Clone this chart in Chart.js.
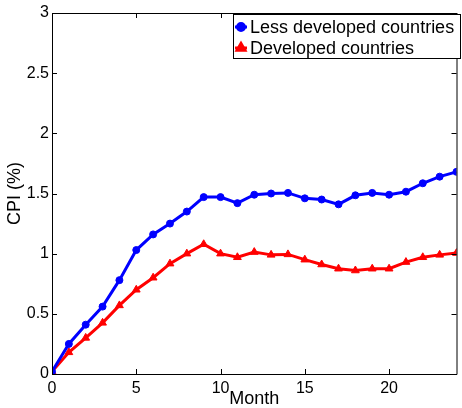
<!DOCTYPE html>
<html>
<head>
<meta charset="utf-8">
<script src="https://cdn.jsdelivr.net/npm/chart.js@4.4.1/dist/chart.umd.min.js"></script>
<style>
  html, body { margin: 0; padding: 0; background: #ffffff; }
  #wrap { width: 462px; height: 408px; }
</style>
</head>
<body>
<div id="wrap"><canvas id="cpiChart" width="462" height="408"></canvas></div>
<script>
const months = [0, 1, 2, 3, 4, 5, 6, 7, 8, 9, 10, 11, 12, 13, 14, 15, 16, 17, 18, 19, 20, 21, 22, 23, 24];
const lessDeveloped = [0.02, 0.25, 0.41, 0.56, 0.78, 1.03, 1.16, 1.25, 1.35, 1.47, 1.47, 1.42, 1.49, 1.50, 1.505, 1.46, 1.45, 1.41, 1.485, 1.505, 1.49, 1.515, 1.585, 1.64, 1.68];
const developed = [0.02, 0.18, 0.30, 0.425, 0.57, 0.70, 0.80, 0.917, 1.00, 1.078, 1.00, 0.97, 1.013, 0.99, 0.994, 0.95, 0.91, 0.875, 0.86, 0.875, 0.875, 0.93, 0.97, 0.99, 1.005];
const seriesNames = ['Less developed countries', 'Developed countries'];
const xTickLabels = ['0', '5', '10', '15', '20'];
const yTickLabels = ['0', '0.5', '1', '1.5', '2', '2.5', '3'];

const FONT = "'Liberation Sans', Arial, Helvetica, sans-serif";

// box around the axes with short inward tick marks on all four sides
const framePlugin = {
  id: 'frame',
  afterDatasetsDraw(chart) {
    const { ctx, chartArea: a, scales } = chart;
    const len = 5;
    ctx.save();
    ctx.strokeStyle = '#000';
    ctx.lineWidth = 1;
    ctx.beginPath();
    ctx.moveTo(a.left + 0.5, a.top + 0.5);
    ctx.lineTo(a.right + 0.5, a.top + 0.5);
    ctx.moveTo(a.left + 0.5, a.top);
    ctx.lineTo(a.left + 0.5, a.bottom + 0.5);
    ctx.lineTo(a.right + 0.5, a.bottom + 0.5);
    ctx.lineTo(a.right + 0.5, a.top);
    scales.x.ticks.forEach(t => {
      const px = Math.round(scales.x.getPixelForValue(t.value)) + 0.5;
      ctx.moveTo(px, a.bottom);
      ctx.lineTo(px, a.bottom - len);
      ctx.moveTo(px, a.top);
      ctx.lineTo(px, a.top + len);
    });
    scales.y.ticks.forEach(t => {
      const py = Math.round(scales.y.getPixelForValue(t.value)) + 0.5;
      ctx.moveTo(a.left, py);
      ctx.lineTo(a.left + len, py);
      ctx.moveTo(a.right, py);
      ctx.lineTo(a.right - len, py);
    });
    ctx.stroke();
    ctx.restore();
  },
  afterDraw(chart) {
    // legend box in the upper right corner of the axes
    const { ctx } = chart;
    const x0 = 233, y0 = 14, w = 228, h = 45;
    ctx.save();
    ctx.fillStyle = '#fff';
    ctx.fillRect(x0, y0, w, h);
    ctx.strokeStyle = '#000';
    ctx.lineWidth = 1;
    ctx.strokeRect(x0 + 0.5, y0 + 0.5, w - 1, h - 1);
    ctx.font = '18px ' + FONT;
    ctx.textBaseline = 'middle';
    chart.data.datasets.forEach((ds, i) => {
      const cy = y0 + 13 + i * 21;
      ctx.strokeStyle = ds.borderColor;
      ctx.fillStyle = ds.borderColor;
      ctx.lineWidth = 3;
      ctx.beginPath();
      ctx.moveTo(x0 + 2, cy);
      ctx.lineTo(x0 + 14, cy);
      ctx.stroke();
      Chart.helpers.drawPoint(ctx, { pointStyle: ds.pointStyle, radius: ds.pointRadius, rotation: 0, borderWidth: 1 }, x0 + 8, cy);
      ctx.fillStyle = '#000';
      ctx.fillText(ds.label, x0 + 17, cy + 1);
    });
    ctx.restore();
  }
};

const ctx = document.getElementById('cpiChart').getContext('2d');
new Chart(ctx, {
  type: 'line',
  data: {
    datasets: [
      {
        label: seriesNames[0],
        data: months.map((m, i) => ({ x: m, y: lessDeveloped[i] })),
        borderColor: '#0000ff',
        backgroundColor: '#0000ff',
        borderWidth: 3,
        pointStyle: 'circle',
        pointRadius: 3.5,
        pointBorderWidth: 1,
        tension: 0
      },
      {
        label: seriesNames[1],
        data: months.map((m, i) => ({ x: m, y: developed[i] })),
        borderColor: '#ff0000',
        backgroundColor: '#ff0000',
        borderWidth: 3,
        pointStyle: 'triangle',
        pointRadius: 4.5,
        pointBorderWidth: 1,
        tension: 0
      }
    ]
  },
  options: {
    responsive: false,
    animation: false,
    devicePixelRatio: 1,
    layout: { padding: { top: 13, right: 0, left: 0, bottom: 0 } },
    plugins: {
      legend: { display: false },
      tooltip: { enabled: false }
    },
    scales: {
      x: {
        type: 'linear',
        min: 0,
        max: 24,
        afterFit: s => { s.height = 34; },
        grid: { display: false, drawTicks: false },
        border: { display: false },
        ticks: {
          stepSize: 5,
          padding: 5,
          maxRotation: 0,
          color: '#000',
          font: { family: FONT, size: 16 },
          callback: (v, i) => xTickLabels[i]
        },
        title: {
          display: true,
          text: 'Month',
          color: '#000',
          font: { family: FONT, size: 18 },
          padding: { top: 0, bottom: -2 }
        }
      },
      y: {
        min: 0,
        max: 3,
        afterFit: s => { s.width = 52; },
        grid: { display: false, drawTicks: false },
        border: { display: false },
        ticks: {
          stepSize: 0.5,
          padding: 3,
          color: '#000',
          font: { family: FONT, size: 16 },
          callback: (v, i) => yTickLabels[i]
        },
        title: {
          display: true,
          text: 'CPI (%)',
          color: '#000',
          font: { family: FONT, size: 18 },
          padding: { top: 4, bottom: 0 }
        }
      }
    }
  },
  plugins: [framePlugin]
});
</script>
</body>
</html>
